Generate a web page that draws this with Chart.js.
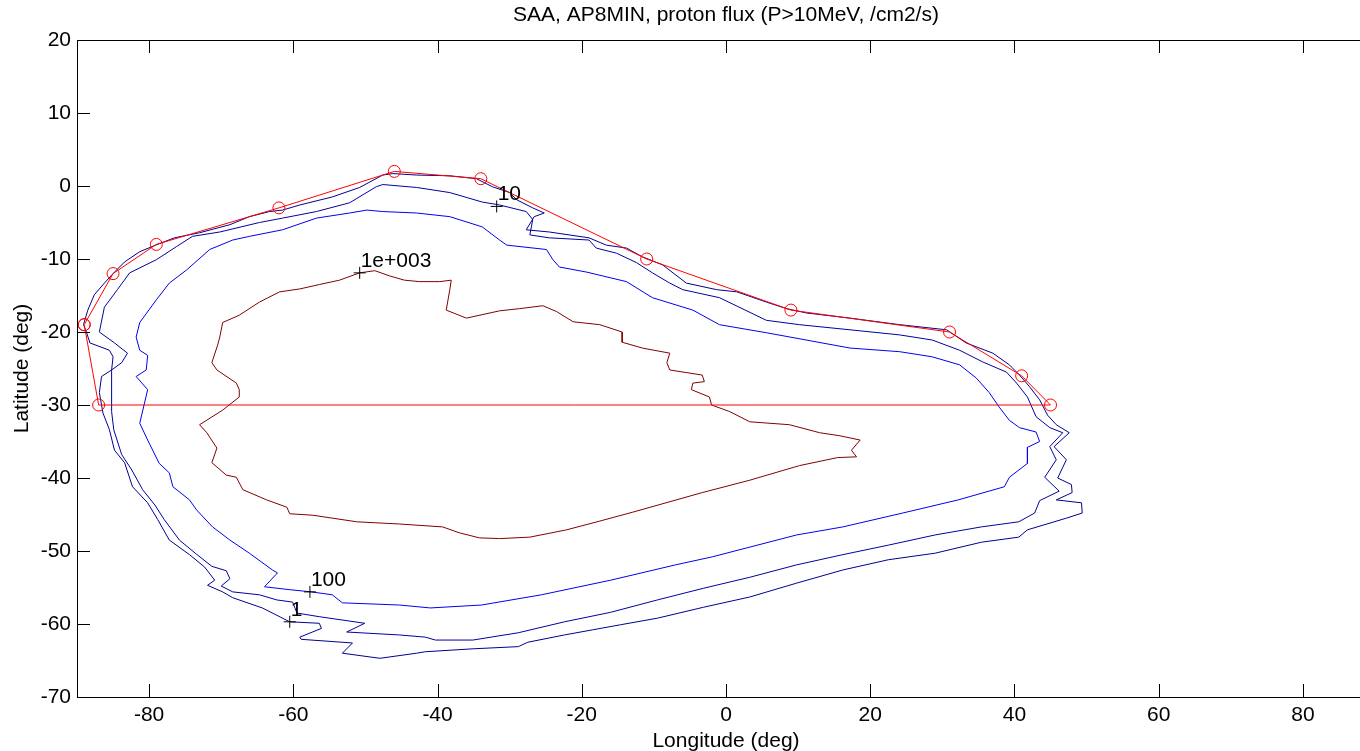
<!DOCTYPE html>
<html>
<head>
<meta charset="utf-8">
<script src="https://cdn.jsdelivr.net/npm/chart.js@4.4.1/dist/chart.umd.min.js"></script>
<style>
  html, body { margin: 0; padding: 0; background: #fff; overflow: hidden; width: 1360px; height: 751px; }
  canvas { display: block; }
</style>
</head>
<body>
<canvas id="saa" width="1400" height="751"></canvas>
<script>
// tick labels
const xTicks = [-80, -60, -40, -20, 0, 20, 40, 60, 80];
const yTicks = [-70, -60, -50, -40, -30, -20, -10, 0, 10, 20];

// contour lines, [longitude, latitude]
const contour1 = [[-85.2,-25.2],[-85.0,-23.4],[-85.5,-22.5],[-88.2,-21.5],[-88.7,-20.0],[-89.1,-19.0],[-88.5,-17.0],[-87.6,-14.9],[-86.2,-13.3],[-85.0,-12.0],[-83.4,-10.4],[-81.3,-9.0],[-79.1,-8.1],[-76.5,-7.1],[-73.0,-6.4],[-68.8,-5.3],[-66.1,-4.2],[-63.3,-3.5],[-61.5,-3.3],[-59.1,-2.6],[-54.6,-1.5],[-50.8,-0.2],[-47.6,1.5],[-46.2,1.7],[-42.9,1.5],[-38.3,1.4],[-34.6,1.0],[-32.4,-0.1],[-30.0,-0.9],[-29.0,-1.9],[-26.8,-3.0],[-25.2,-3.7],[-26.6,-4.2],[-27.7,-6.0],[-24.5,-6.3],[-19.0,-7.1],[-16.6,-8.1],[-13.8,-8.5],[-11.6,-9.7],[-8.8,-10.8],[-5.5,-13.3],[-1.3,-14.2],[1.5,-14.5],[5.6,-15.9],[8.4,-16.8],[11.2,-17.4],[17.2,-18.1],[24.1,-19.0],[30.6,-19.7],[33.3,-21.5],[37.0,-22.9],[39.3,-24.5],[40.7,-25.9],[42.1,-27.5],[43.5,-29.3],[44.6,-31.4],[45.8,-32.7],[47.6,-33.8],[45.5,-35.7],[47.2,-37.5],[46.0,-40.0],[47.9,-40.9],[48.0,-42.0],[45.8,-43.0],[49.3,-43.4],[49.4,-44.8],[47.2,-45.5],[41.8,-47.1],[40.6,-48.1],[35.4,-48.8],[29.0,-50.3],[22.5,-51.2],[16.2,-52.6],[9.8,-54.4],[3.3,-56.3],[-3.1,-57.7],[-9.5,-59.2],[-14.6,-60.1],[-18.5,-60.8],[-22.4,-61.5],[-27.5,-62.5],[-28.8,-63.1],[-35.1,-63.4],[-41.7,-63.8],[-42.9,-64.0],[-48.0,-64.7],[-53.2,-64.0],[-51.8,-62.6],[-58.9,-62.1],[-59.1,-61.8],[-56.1,-60.6],[-56.4,-59.9],[-60.5,-59.7],[-64.3,-57.8],[-68.4,-56.4],[-69.8,-55.6],[-71.9,-54.7],[-70.9,-54.0],[-72.3,-52.2],[-74.4,-50.5],[-77.2,-48.5],[-78.8,-45.7],[-80.2,-43.4],[-82.3,-41.2],[-83.4,-37.9],[-84.8,-36.2],[-85.5,-33.4],[-86.4,-31.1],[-86.9,-28.3],[-86.6,-26.1],[-85.2,-25.2]];

const contour10 = [[-85.2,-25.2],[-83.8,-24.2],[-83.0,-22.9],[-84.8,-21.5],[-86.9,-20.0],[-86.2,-16.6],[-84.4,-14.2],[-82.7,-11.9],[-79.0,-10.1],[-76.2,-8.3],[-74.0,-6.9],[-70.2,-6.3],[-64.7,-5.0],[-61.5,-4.4],[-56.8,-3.5],[-52.2,-2.3],[-48.5,-0.1],[-47.6,0.2],[-42.9,-0.2],[-38.3,-0.9],[-33.8,-2.2],[-31.4,-2.6],[-27.7,-3.5],[-26.8,-4.6],[-27.2,-6.7],[-24.5,-7.1],[-19.0,-7.4],[-18.0,-8.5],[-15.2,-9.2],[-12.4,-10.5],[-10.2,-11.9],[-7.8,-13.3],[-6.0,-14.2],[-0.9,-15.3],[5.6,-18.4],[10.2,-19.0],[17.2,-19.7],[24.1,-20.4],[28.6,-21.1],[32.4,-22.5],[35.6,-24.1],[38.9,-25.5],[40.3,-27.0],[41.8,-28.9],[43.0,-31.6],[44.9,-33.1],[46.7,-33.8],[44.9,-35.7],[45.8,-37.5],[44.2,-39.9],[46.2,-41.8],[43.5,-43.1],[42.8,-44.8],[40.6,-46.0],[35.4,-46.7],[29.0,-47.8],[22.5,-49.2],[16.2,-50.5],[9.8,-51.9],[3.3,-53.6],[-3.1,-55.1],[-9.5,-56.7],[-16.0,-58.4],[-22.4,-59.7],[-28.8,-61.2],[-35.1,-62.2],[-40.3,-62.2],[-41.7,-61.8],[-45.3,-61.5],[-52.6,-61.1],[-50.1,-59.9],[-56.4,-59.0],[-59.5,-58.5],[-60.1,-57.0],[-62.3,-56.7],[-64.7,-56.0],[-68.4,-55.6],[-70.0,-54.8],[-68.8,-53.8],[-69.3,-52.7],[-71.3,-52.1],[-73.6,-50.3],[-75.8,-48.5],[-77.9,-45.7],[-79.2,-43.7],[-80.9,-41.6],[-82.4,-38.9],[-83.8,-36.8],[-84.9,-33.4],[-85.2,-30.9],[-85.2,-26.6],[-85.2,-25.2]];

const contour100 = [[-81.3,-18.7],[-79.0,-15.6],[-77.2,-13.3],[-74.8,-11.5],[-71.6,-8.7],[-68.4,-7.4],[-66.1,-6.9],[-61.5,-6.0],[-56.8,-4.4],[-52.2,-3.7],[-49.8,-3.3],[-47.6,-3.5],[-42.9,-3.7],[-38.3,-4.2],[-33.8,-5.6],[-31.4,-7.4],[-30.4,-8.1],[-24.9,-8.7],[-24.0,-10.1],[-23.1,-11.1],[-19.3,-11.8],[-13.8,-13.1],[-10.2,-15.3],[-4.6,-17.0],[-0.9,-19.0],[5.6,-20.1],[17.2,-22.2],[24.1,-22.7],[28.6,-23.4],[32.4,-24.5],[34.7,-26.3],[36.5,-28.3],[37.9,-30.3],[39.3,-32.1],[40.7,-33.1],[43.0,-33.7],[43.5,-35.0],[41.8,-35.8],[41.8,-38.0],[39.3,-39.9],[38.6,-41.2],[32.2,-43.0],[24.5,-44.8],[16.2,-46.7],[9.8,-47.8],[-1.9,-50.8],[-7.0,-51.9],[-16.0,-54.0],[-25.6,-56.0],[-33.9,-57.4],[-41.0,-57.8],[-45.3,-57.4],[-53.2,-57.1],[-54.6,-56.0],[-57.5,-55.6],[-60.5,-55.3],[-64.0,-54.9],[-62.2,-53.0],[-62.9,-52.6],[-66.1,-50.3],[-68.8,-48.5],[-71.2,-46.7],[-73.4,-44.4],[-74.4,-43.0],[-76.7,-41.2],[-77.2,-39.3],[-78.6,-38.0],[-80.2,-34.8],[-81.3,-32.5],[-80.2,-27.9],[-81.8,-26.1],[-80.4,-25.2],[-80.2,-23.2],[-81.3,-22.5],[-81.8,-20.7],[-81.3,-18.7]];

const contour1000 = [[-50.8,-11.9],[-48.7,-11.6],[-46.7,-12.3],[-44.6,-12.9],[-42.5,-13.1],[-39.7,-13.1],[-38.1,-12.9],[-38.3,-14.2],[-38.8,-17.0],[-36.0,-18.1],[-31.4,-17.1],[-28.6,-16.8],[-25.4,-16.4],[-23.5,-17.2],[-21.2,-18.6],[-17.5,-19.0],[-14.4,-20.0],[-14.4,-21.4],[-11.6,-22.2],[-7.8,-22.9],[-8.2,-24.2],[-7.8,-25.2],[-3.3,-25.9],[-3.0,-26.8],[-4.6,-27.0],[-4.8,-27.9],[-2.3,-28.9],[-2.0,-30.0],[0.5,-30.9],[3.3,-32.3],[8.8,-32.7],[13.0,-33.8],[15.7,-34.2],[18.6,-34.8],[17.4,-36.2],[18.1,-37.1],[15.5,-37.2],[10.2,-38.3],[3.3,-40.3],[-3.3,-42.0],[-13.0,-44.7],[-17.5,-45.9],[-22.1,-47.1],[-27.2,-48.1],[-31.4,-48.3],[-34.2,-48.2],[-37.0,-47.5],[-39.3,-46.7],[-45.3,-46.3],[-51.2,-46.0],[-57.3,-45.1],[-60.5,-44.9],[-60.9,-44.0],[-63.7,-43.0],[-67.0,-41.6],[-67.9,-39.9],[-69.3,-39.6],[-71.3,-37.9],[-70.6,-35.9],[-72.0,-33.8],[-73.0,-32.7],[-69.8,-30.7],[-67.5,-28.9],[-67.5,-27.9],[-67.9,-27.0],[-70.6,-25.2],[-71.3,-24.2],[-70.5,-21.8],[-70.2,-20.7],[-69.8,-18.7],[-67.5,-17.7],[-64.7,-15.9],[-61.9,-14.5],[-59.1,-14.1],[-56.4,-13.5],[-53.6,-12.9],[-50.8,-11.9]];

// SAA boundary polygon (red circles)
const boundary = [[-89,-19],[-85,-12],[-79,-8],[-62,-3],[-46,2],[-34,1],[-11,-10],[9,-17],[31,-20],[41,-26],[45,-30],[-87,-30],[-89,-19]];

// contour labels
const labelText = ['1', '10', '100', '1e+003'];
const labelLon = [-60.5, -31.8, -57.7, -50.8];
const labelLat = [-59.7, -2.8, -55.6, -11.9];

const FONT = "'Liberation Sans', Arial, sans-serif";
const FS = 21;
const pts = a => a.map(p => ({ x: p[0], y: p[1] }));

function line(data, color) {
    return {
        data: pts(data),
        showLine: true,
        borderColor: color,
        borderWidth: 1,
        pointRadius: 0,
        fill: false,
        order: 3
    };
}

const frame = {
    id: 'frame',
    afterDatasetsDraw(chart) {
        const { ctx, scales: { x, y } } = chart;
        ctx.save();
        ctx.font = FS + 'px ' + FONT;
        ctx.fillStyle = '#000';
        ctx.textAlign = 'left';
        ctx.textBaseline = 'middle';
        labelText.forEach((t, i) => {
            ctx.fillText(t, x.getPixelForValue(labelLon[i]) + 1, y.getPixelForValue(labelLat[i]) - 12);
        });
        ctx.restore();
    },
    afterDraw(chart) {
        const { ctx, chartArea: a, scales: { x, y } } = chart;
        ctx.save();
        ctx.strokeStyle = '#000';
        ctx.lineWidth = 1;
        ctx.strokeRect(a.left + 0.5, a.top + 0.5, a.right - a.left, a.bottom - a.top);
        ctx.beginPath();
        x.ticks.forEach(t => {
            const px = Math.round(x.getPixelForValue(t.value)) + 0.5;
            ctx.moveTo(px, a.bottom); ctx.lineTo(px, a.bottom - 13);
            ctx.moveTo(px, a.top); ctx.lineTo(px, a.top + 13);
        });
        y.ticks.forEach(t => {
            const py = Math.round(y.getPixelForValue(t.value)) + 0.5;
            ctx.moveTo(a.left, py); ctx.lineTo(a.left + 13, py);
            ctx.moveTo(a.right, py); ctx.lineTo(a.right - 13, py);
        });
        ctx.stroke();

        ctx.fillStyle = '#000';
        ctx.font = FS + 'px ' + FONT;
        ctx.textAlign = 'center';
        ctx.textBaseline = 'middle';
        ctx.fillText('SAA, AP8MIN, proton flux (P>10MeV, /cm2/s)', (a.left + a.right) / 2, 15);
        ctx.fillText('Longitude (deg)', (a.left + a.right) / 2, 741);
        ctx.translate(22, (a.top + a.bottom) / 2);
        ctx.rotate(-Math.PI / 2);
        ctx.fillText('Latitude (deg)', 0, 0);
        ctx.restore();
    }
};

new Chart(document.getElementById('saa'), {
    type: 'scatter',
    data: {
        datasets: [
            {
                data: labelLon.map((v, i) => ({ x: v, y: labelLat[i] })),
                pointStyle: 'cross',
                pointRadius: 6,
                pointBorderColor: '#000',
                pointBorderWidth: 1,
                showLine: false,
                order: 1
            },
            {
                data: pts(boundary),
                showLine: true,
                borderColor: '#ff0000',
                borderWidth: 1,
                pointStyle: 'circle',
                pointRadius: 6,
                pointBorderColor: '#ff0000',
                pointBackgroundColor: 'rgba(0,0,0,0)',
                pointBorderWidth: 1,
                order: 2
            },
            line(contour1, '#000090'),
            line(contour10, '#0000a0'),
            line(contour100, '#0000ee'),
            line(contour1000, '#800000')
        ]
    },
    options: {
        responsive: false,
        animation: false,
        devicePixelRatio: 1,
        events: [],
        layout: { padding: { top: 40, right: 25, left: 0, bottom: 0 } },
        plugins: { legend: { display: false }, tooltip: { enabled: false } },
        scales: {
            x: {
                type: 'linear',
                min: -90, max: 90,
                afterBuildTicks: s => { s.ticks = xTicks.map(v => ({ value: v })); },
                afterFit: s => { s.height = 54; },
                grid: { display: false, drawTicks: false },
                border: { display: false },
                ticks: { color: '#000', font: { family: FONT, size: FS }, padding: 6, autoSkip: false, maxRotation: 0 }
            },
            y: {
                type: 'linear',
                min: -70, max: 20,
                afterBuildTicks: s => { s.ticks = yTicks.map(v => ({ value: v })); },
                afterFit: s => { s.width = 77; },
                grid: { display: false, drawTicks: false },
                border: { display: false },
                ticks: { color: '#000', font: { family: FONT, size: FS }, padding: 6, autoSkip: false }
            }
        }
    },
    plugins: [frame]
});
</script>
</body>
</html>
